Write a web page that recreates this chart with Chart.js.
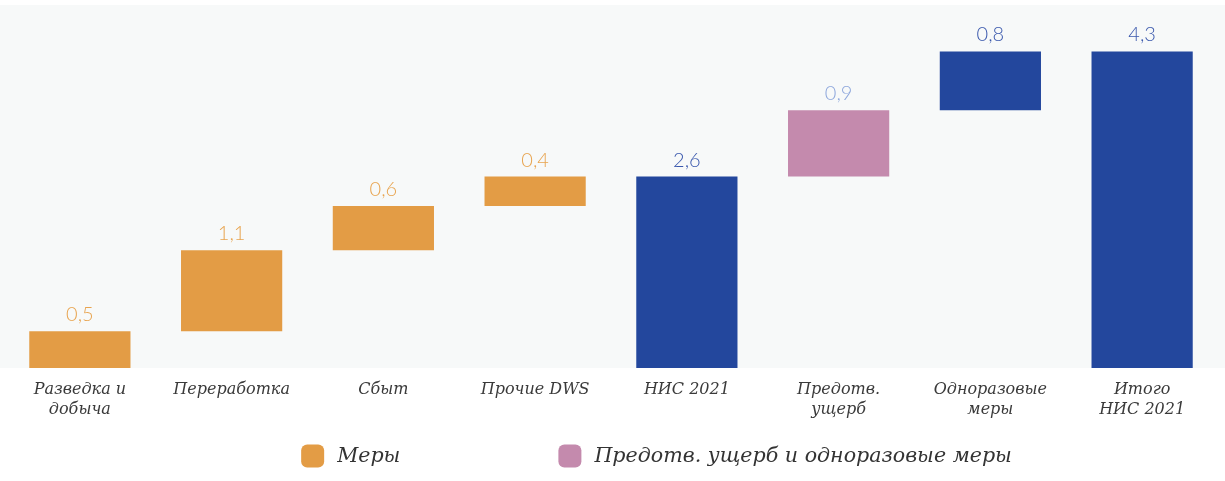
<!DOCTYPE html>
<html>
<head>
<meta charset="utf-8">
<script src="https://cdn.jsdelivr.net/npm/chart.js@4/dist/chart.umd.min.js"></script>
<style>
html,body{margin:0;padding:0;background:#ffffff;}
#wrap{width:1225px;height:481px;position:relative;}
</style>
</head>
<body>
<div id="wrap"><canvas id="c" width="1225" height="481"></canvas></div>
<script>
const categories = [['Разведка и','добыча'], 'Переработка', 'Сбыт', 'Прочие DWS', 'НИС 2021', ['Предотв.','ущерб'], ['Одноразовые','меры'], ['Итого','НИС 2021']];
const deltas = [0.5, 1.1, 0.6, 0.4, 2.6, 0.9, 0.8, 4.3];
const kinds = ['measure','measure','measure','measure','total','special','oneoff','total'];
const legendLabels = ['Меры', 'Предотв. ущерб и одноразовые меры'];

const barColors = {measure:'#e39c45', total:'#23479d', special:'#c48aad', oneoff:'#23479d'};
const labelColors = {measure:'#e8a44f', total:'#3a58ad', special:'#8ea7dc', oneoff:'#3a58ad'};

// build floating bars
let run = 0;
const floating = deltas.map((d,i)=>{
  if (kinds[i]==='total') { run = d; return [0, d]; }
  const s = run; run = +(run + d).toFixed(2); return [s, run];
});

const bgPlugin = {
  id:'bg',
  beforeDraw(chart){
    const {ctx, chartArea} = chart;
    ctx.save();
    ctx.fillStyle = '#f7f9f9';
    ctx.fillRect(0, 5, chart.width, chartArea.bottom - 5);
    ctx.restore();
  }
};

const valuePlugin = {
  id:'vals',
  afterDatasetsDraw(chart){
    const {ctx} = chart;
    const meta = chart.getDatasetMeta(0);
    ctx.save();
    ctx.font = '300 20px Lato';
    ctx.textAlign = 'center';
    ctx.textBaseline = 'alphabetic';
    meta.data.forEach((bar,i)=>{
      ctx.fillStyle = labelColors[kinds[i]];
      const top = Math.min(bar.y, bar.base);
      ctx.fillText(deltas[i].toFixed(1).replace('.', ','), bar.x, top - 10);
    });
    ctx.restore();
  }
};

const legendPlugin = {
  id:'customLegend',
  afterDraw(chart){
    const {ctx} = chart;
    const items = [
      {text: legendLabels[0], color: barColors.measure},
      {text: legendLabels[1], color: barColors.special}
    ];
    ctx.save();
    ctx.font = 'italic 20.6px "DejaVu Serif"';
    ctx.textBaseline = 'middle';
    const box = 23, gapText = 13, gapItems = 158;
    let total = 0;
    items.forEach((it,i)=>{ total += box + gapText + ctx.measureText(it.text).width + (i<items.length-1?gapItems:0); });
    let x = chart.width/2 - total/2 + 44;
    const y = 456;
    items.forEach(it=>{
      ctx.fillStyle = it.color;
      ctx.beginPath();
      if (ctx.roundRect) ctx.roundRect(x, y - box/2, box, box, 6); else ctx.rect(x, y-box/2, box, box);
      ctx.fill();
      x += box + gapText;
      ctx.fillStyle = '#333333';
      ctx.fillText(it.text, x, y + 1);
      x += ctx.measureText(it.text).width + gapItems;
    });
    ctx.restore();
  }
};

new Chart(document.getElementById('c'), {
  type:'bar',
  data:{
    labels: categories,
    datasets:[{
      data: floating,
      backgroundColor: kinds.map(k=>barColors[k]),
      borderWidth: 0,
      barPercentage: 0.667,
      categoryPercentage: 1.0
    }]
  },
  options:{
    responsive:false,
    animation:false,
    devicePixelRatio:1,
    layout:{padding:{left:4, right:7, top:5, bottom:0}},
    plugins:{legend:{display:false}, tooltip:{enabled:false}},
    scales:{
      x:{
        grid:{display:false, drawTicks:false},
        border:{display:false},
        ticks:{
          color:'#3a3a3a',
          font:{family:'DejaVu Serif', style:'italic', size:16, lineHeight:1.25},
          padding:12,
          maxRotation:0,
          autoSkip:false
        },
        afterFit(scale){ scale.height = 113; }
      },
      y:{
        display:false,
        min:0,
        max:4.93
      }
    }
  },
  plugins:[bgPlugin, valuePlugin, legendPlugin]
});
</script>
</body>
</html>
